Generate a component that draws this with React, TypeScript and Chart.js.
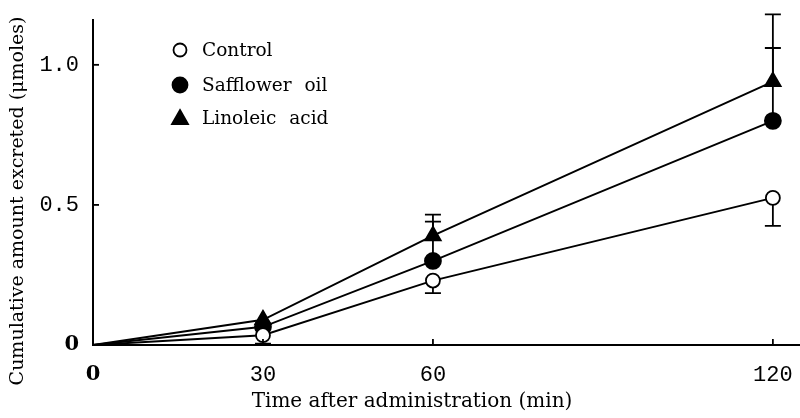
import React, { useEffect, useRef } from "react";
import { Chart, registerables } from "chart.js";

Chart.register(...registerables);

// ---- data ----
const timePoints = [0, 30, 60, 120];
const xTickValues = [0, 30, 60, 120];
const yTickValues = [0, 0.5, 1.0];
const yTickLabels = ["0", "0.5", "1.0"];
const seriesNames = ["Control", "Safflower oil", "Linoleic acid"];
const controlValues = [0, 0.035, 0.23, 0.525];
const safflowerValues = [0, 0.065, 0.3, 0.8];
const linoleicValues = [0, 0.09, 0.39, 0.94];
const controlErrUp = [0, 0, 0, 0];
const controlErrDown = [0, 0.03, 0.045, 0.1];
const safflowerErrUp = [0, 0, 0.14, 0.26];
const safflowerErrDown = [0, 0, 0, 0];
const linoleicErrUp = [0, 0, 0.075, 0.24];
const linoleicErrDown = [0, 0, 0, 0];
const xTitle = "Time after administration (min)";
const yTitle = "Cumulative amount excreted (\u03bcmoles)";

const SERIF = "'DejaVu Serif', 'Liberation Serif', serif";
const MONO = "'Liberation Mono', 'DejaVu Sans Mono', monospace";

const errUp = [controlErrUp, safflowerErrUp, linoleicErrUp];
const errDown = [controlErrDown, safflowerErrDown, linoleicErrDown];

const errorBarPlugin = {
  id: "errorBars",
  beforeDatasetsDraw(chart: any) {
    const { ctx, scales } = chart;
    const xs = scales.x;
    const ys = scales.y;
    ctx.save();
    ctx.strokeStyle = "#000";
    ctx.lineWidth = 1.8;
    const cap = 8;
    chart.data.datasets.forEach((ds: any, di: number) => {
      ds.data.forEach((p: any, i: number) => {
        const px = xs.getPixelForValue(p.x);
        const py = ys.getPixelForValue(p.y);
        const up = errUp[di][i];
        const dn = errDown[di][i];
        if (up > 0) {
          const ty = ys.getPixelForValue(p.y + up);
          ctx.beginPath();
          ctx.moveTo(px, py);
          ctx.lineTo(px, ty);
          ctx.moveTo(px - cap, ty);
          ctx.lineTo(px + cap, ty);
          ctx.stroke();
        }
        if (dn > 0) {
          const by = ys.getPixelForValue(p.y - dn);
          ctx.beginPath();
          ctx.moveTo(px, py);
          ctx.lineTo(px, by);
          ctx.moveTo(px - cap, by);
          ctx.lineTo(px + cap, by);
          ctx.stroke();
        }
      });
    });
    ctx.restore();
  },
};

const decorPlugin = {
  id: "decor",
  afterDraw(chart: any) {
    const { ctx, scales, chartArea } = chart;
    const xs = scales.x;
    const ys = scales.y;
    ctx.save();
    ctx.strokeStyle = "#000";
    ctx.lineWidth = 1.8;
    // inward tick marks
    xTickValues.forEach((v) => {
      const px = xs.getPixelForValue(v);
      ctx.beginPath();
      ctx.moveTo(px, chartArea.bottom);
      ctx.lineTo(px, chartArea.bottom - 6);
      ctx.stroke();
    });
    yTickValues.forEach((v) => {
      const py = ys.getPixelForValue(v);
      ctx.beginPath();
      ctx.moveTo(chartArea.left, py);
      ctx.lineTo(chartArea.left + 6, py);
      ctx.stroke();
    });
    // axis titles
    ctx.fillStyle = "#000";
    ctx.textAlign = "center";
    ctx.textBaseline = "middle";
    ctx.font = `20px ${SERIF}`;
    ctx.fillText(xTitle, 412, 402);
    ctx.save();
    ctx.translate(18, 201);
    ctx.rotate(-Math.PI / 2);
    ctx.font = `19px ${SERIF}`;
    ctx.fillText(yTitle, 0, 0);
    ctx.restore();
    // legend
    const legendY = [50, 85, 118];
    chart.data.datasets.forEach((ds: any, di: number) => {
      const cx = 180;
      const cy = legendY[di];
      ctx.beginPath();
      if (ds.pointStyle === "triangle") {
        ctx.moveTo(cx, cy - 8);
        ctx.lineTo(cx + 8, cy + 6);
        ctx.lineTo(cx - 8, cy + 6);
        ctx.closePath();
      } else {
        ctx.arc(cx, cy, di === 0 ? 6.5 : 7.5, 0, Math.PI * 2);
      }
      ctx.fillStyle = ds.pointBackgroundColor;
      ctx.fill();
      ctx.lineWidth = 1.8;
      ctx.stroke();
      ctx.fillStyle = "#000";
      ctx.font = `18.5px ${SERIF}`;
      (ctx as any).wordSpacing = "7px";
      ctx.textAlign = "left";
      ctx.textBaseline = "middle";
      ctx.fillText(ds.label, 202, cy + 1);
      (ctx as any).wordSpacing = "0px";
    });
    ctx.restore();
  },
};

function makeDataset(label: string, values: number[], style: string, fill: string, r: number) {
  return {
    label,
    data: timePoints.map((t, i) => ({ x: t, y: values[i] })),
    borderColor: "#000",
    borderWidth: 1.9,
    pointStyle: style,
    pointRadius: timePoints.map((t) => (t === 0 ? 0 : r)),
    pointBackgroundColor: fill,
    backgroundColor: fill,
    pointBorderColor: "#000",
    pointBorderWidth: 1.8,
    tension: 0,
    clip: false,
  };
}

const tickFont = (c: any) =>
  c.tick && c.tick.value === 0
    ? { family: SERIF, size: 21, weight: "bold" }
    : { family: MONO, size: 22 };

export default function App() {
  const ref = useRef<HTMLCanvasElement | null>(null);
  useEffect(() => {
    if (!ref.current) return;
    const chart = new Chart(ref.current, {
      type: "line",
      data: {
        datasets: [
          makeDataset(seriesNames[0], controlValues, "circle", "#fff", 7),
          makeDataset(seriesNames[1], safflowerValues, "circle", "#000", 8),
          makeDataset(seriesNames[2], linoleicValues, "triangle", "#000", 9),
        ] as any,
      },
      options: {
        animation: false,
        responsive: false,
        layout: { padding: { top: 20, right: 0, bottom: 0, left: 2 } },
        plugins: { legend: { display: false }, tooltip: { enabled: false } },
        scales: {
          x: {
            type: "linear",
            min: 0,
            max: 125,
            afterBuildTicks: (s: any) => {
              s.ticks = xTickValues.map((v) => ({ value: v }));
            },
            afterFit: (s: any) => {
              s.height = 73;
              s.paddingRight = 0;
              s.paddingLeft = 0;
            },
            grid: { display: false },
            border: { display: true, color: "#000", width: 2 },
            ticks: {
              color: "#000",
              padding: 9,
              maxRotation: 0,
              autoSkip: false,
              font: tickFont,
              callback: (v: any) => String(v),
            },
          },
          y: {
            type: "linear",
            min: 0,
            max: 1.16,
            afterBuildTicks: (s: any) => {
              s.ticks = yTickValues.map((v) => ({ value: v }));
            },
            afterFit: (s: any) => {
              s.width = 91;
              s.paddingTop = 0;
              s.paddingBottom = 0;
            },
            grid: { display: false },
            border: { display: true, color: "#000", width: 2 },
            ticks: {
              color: "#000",
              padding: 6,
              autoSkip: false,
              font: tickFont,
              callback: (v: any) => {
                const idx = yTickValues.indexOf(Number(v));
                return idx >= 0 ? yTickLabels[idx] : "";
              },
            },
          },
        },
      } as any,
      plugins: [errorBarPlugin, decorPlugin],
    });
    return () => chart.destroy();
  }, []);
  return (
    <div
      style={{
        position: "fixed",
        left: 0,
        top: 0,
        width: 800,
        height: 418,
        overflow: "hidden",
        background: "#fff",
      }}
    >
      <canvas ref={ref} width={812} height={418} style={{ display: "block" }} />
    </div>
  );
}
